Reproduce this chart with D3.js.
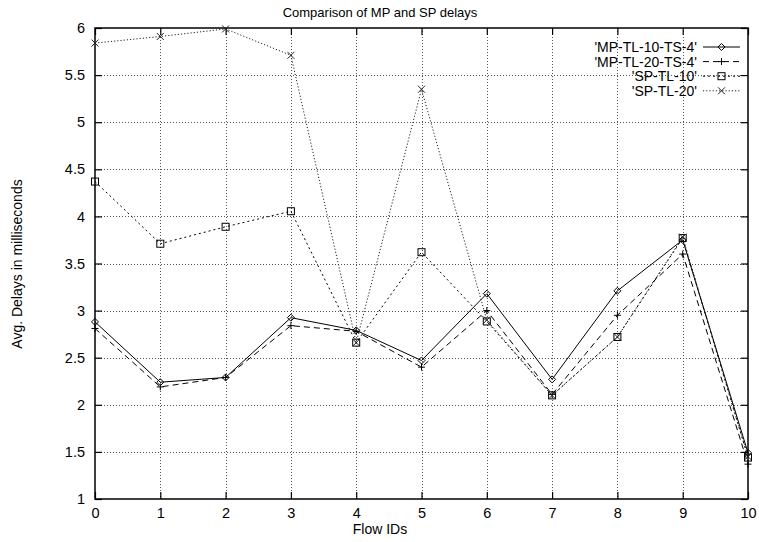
<!DOCTYPE html>
<html>
<head>
<meta charset="utf-8">
<script src="https://cdn.jsdelivr.net/npm/d3@7"></script>
<style>
  html, body { margin: 0; padding: 0; background: #fff; }
  svg { display: block; font-family: "Liberation Sans", Arial, Helvetica, sans-serif; }
</style>
</head>
<body>
<svg id="chart" width="759" height="542"></svg>
<script>
// Flow IDs along the x axis
const flowIds = [0, 1, 2, 3, 4, 5, 6, 7, 8, 9, 10];

// Average delays (ms) per flow for each configuration
const mpTl10Ts4 = [2.88, 2.24, 2.29, 2.925, 2.79, 2.47, 3.18, 2.27, 3.21, 3.75, 1.49];
const mpTl20Ts4 = [2.81, 2.19, 2.29, 2.84, 2.78, 2.40, 3.00, 2.11, 2.95, 3.60, 1.37];
const spTl10    = [4.37, 3.71, 3.89, 4.055, 2.66, 3.62, 2.885, 2.10, 2.72, 3.77, 1.44];
const spTl20    = [5.84, 5.91, 5.99, 5.71, 2.66, 5.35, 2.90, 2.10, 2.72, 3.78, 1.45];

const seriesNames = ["'MP-TL-10-TS-4'", "'MP-TL-20-TS-4'", "'SP-TL-10'", "'SP-TL-20'"];
const xTicks = [0, 1, 2, 3, 4, 5, 6, 7, 8, 9, 10];
const yTicks = [1, 1.5, 2, 2.5, 3, 3.5, 4, 4.5, 5, 5.5, 6];

const series = [
  { name: seriesNames[0], values: mpTl10Ts4, dash: null,    color: "#000", marker: "diamond", width: 1 },
  { name: seriesNames[1], values: mpTl20Ts4, dash: "6,4",   color: "#000", marker: "plus",    width: 1 },
  { name: seriesNames[2], values: spTl10,    dash: "2,3",   color: "#000", marker: "square",  width: 1 },
  { name: seriesNames[3], values: spTl20,    dash: "1.2,2", color: "#222", marker: "cross",   width: 1 }
];

const svg = d3.select("#chart");
const plotLeft = 95, plotRight = 748, plotTop = 28, plotBottom = 499;
const labelFont = "14.5px";

const x = d3.scaleLinear().domain([0, 10]).range([plotLeft, plotRight]);
const y = d3.scaleLinear().domain([1, 6]).range([plotBottom, plotTop]);

// grid
const grid = svg.append("g").attr("stroke", "#555").attr("stroke-width", 1)
  .attr("stroke-dasharray", "1,2").attr("shape-rendering", "crispEdges");
xTicks.filter(t => t > 0 && t < 10).forEach(t => {
  grid.append("line").attr("x1", Math.round(x(t)) + 0.5).attr("x2", Math.round(x(t)) + 0.5)
    .attr("y1", plotTop).attr("y2", plotBottom);
});
yTicks.filter(t => t > 1 && t < 6).forEach(t => {
  grid.append("line").attr("y1", Math.round(y(t)) + 0.5).attr("y2", Math.round(y(t)) + 0.5)
    .attr("x1", plotLeft).attr("x2", plotRight);
});

// axes (ticks pointing inward, mirrored on opposite sides)
const tickLen = 7;
const fmt = d3.format("~g");
const axB = svg.append("g").attr("transform", `translate(0,${plotBottom})`)
  .call(d3.axisBottom(x).tickValues(xTicks).tickSize(-tickLen).tickPadding(9).tickFormat(fmt));
const axT = svg.append("g").attr("transform", `translate(0,${plotTop})`)
  .call(d3.axisTop(x).tickValues(xTicks).tickSize(-tickLen).tickFormat(""));
const axL = svg.append("g").attr("transform", `translate(${plotLeft},0)`)
  .call(d3.axisLeft(y).tickValues(yTicks).tickSize(-tickLen).tickPadding(10).tickFormat(fmt));
const axR = svg.append("g").attr("transform", `translate(${plotRight},0)`)
  .call(d3.axisRight(y).tickValues(yTicks).tickSize(-tickLen).tickFormat(""));
[axB, axT, axL, axR].forEach(a => {
  a.select(".domain").remove();
  a.selectAll("line").attr("stroke", "#000").attr("stroke-width", 1.2);
  a.selectAll("text").attr("fill", "#000").style("font-size", labelFont)
    .style("font-family", "'Liberation Sans', Arial, sans-serif");
});

// frame
svg.append("rect").attr("x", plotLeft).attr("y", plotTop)
  .attr("width", plotRight - plotLeft).attr("height", plotBottom - plotTop)
  .attr("fill", "none").attr("stroke", "#000").attr("stroke-width", 1.5);

// markers
function drawMarker(g, type, cx, cy, color) {
  const s = 3.5;
  if (type === "diamond") {
    g.append("path").attr("d", `M${cx},${cy - s}L${cx + s},${cy}L${cx},${cy + s}L${cx - s},${cy}Z`)
      .attr("fill", "none").attr("stroke", color).attr("stroke-width", 1);
  } else if (type === "plus") {
    g.append("path").attr("d", `M${cx - s},${cy}H${cx + s}M${cx},${cy - s}V${cy + s}`)
      .attr("stroke", color).attr("stroke-width", 1);
  } else if (type === "square") {
    g.append("rect").attr("x", cx - s).attr("y", cy - s).attr("width", 2 * s).attr("height", 2 * s)
      .attr("fill", "none").attr("stroke", color).attr("stroke-width", 1);
  } else if (type === "cross") {
    g.append("path").attr("d", `M${cx - s},${cy - s}L${cx + s},${cy + s}M${cx - s},${cy + s}L${cx + s},${cy - s}`)
      .attr("stroke", color).attr("stroke-width", 1);
  }
}

const line = d3.line().x((d, i) => x(flowIds[i])).y(d => y(d));

series.forEach(s => {
  const g = svg.append("g");
  g.append("path").datum(s.values).attr("d", line)
    .attr("fill", "none").attr("stroke", s.color).attr("stroke-width", s.width)
    .attr("stroke-dasharray", s.dash);
  s.values.forEach((v, i) => drawMarker(g, s.marker, x(flowIds[i]), y(v), s.color));
});

// legend
const legX = 697, legY0 = 47, legStep = 14.6;
series.forEach((s, i) => {
  const ly = legY0 + i * legStep;
  svg.append("text").attr("x", legX).attr("y", ly).attr("dy", "0.35em")
    .attr("text-anchor", "end").style("font-size", "14px").text(s.name);
  svg.append("line").attr("x1", 703).attr("x2", 740).attr("y1", ly).attr("y2", ly)
    .attr("stroke", s.color).attr("stroke-width", s.width).attr("stroke-dasharray", s.dash);
  drawMarker(svg, s.marker, 721.5, ly, s.color);
});

// title and axis labels
svg.append("text").attr("x", 380).attr("y", 12).attr("dy", "0.35em").attr("text-anchor", "middle")
  .style("font-size", "13px").text("Comparison of MP and SP delays");
svg.append("text").attr("x", 380).attr("y", 529).attr("dy", "0.35em").attr("text-anchor", "middle")
  .style("font-size", "14px").text("Flow IDs");
svg.append("text").attr("transform", "translate(17,264) rotate(-90)").attr("dy", "0.35em")
  .attr("text-anchor", "middle").style("font-size", "14px").text("Avg. Delays in milliseconds");
</script>
</body>
</html>
